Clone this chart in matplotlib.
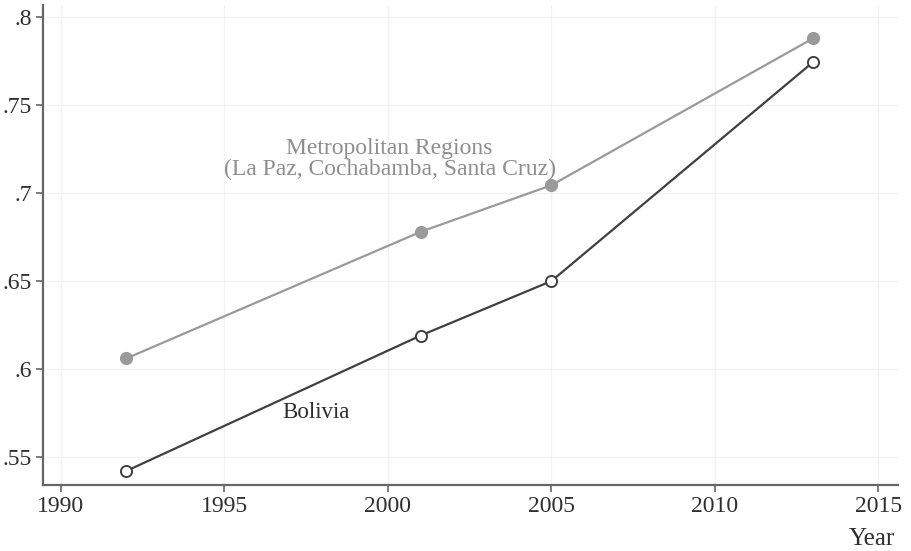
import matplotlib.pyplot as plt

# Data
years = [1992, 2001, 2005, 2013]
metro = [0.606, 0.678, 0.7045, 0.788]
bolivia = [0.542, 0.619, 0.650, 0.7745]

x_ticks = [1990, 1995, 2000, 2005, 2010, 2015]
y_ticks = [0.55, 0.60, 0.65, 0.70, 0.75, 0.80]
y_labels = ['.55', '.6', '.65', '.7', '.75', '.8']

plt.rcParams['font.family'] = ['Liberation Serif', 'DejaVu Serif']

fig = plt.figure(figsize=(9.11, 5.51), dpi=100)
ax = fig.add_axes([43 / 911, 1 - 485 / 551, 855 / 911, 480 / 551])

ax.plot(years, metro, color='#9a9a9a', lw=1.6, marker='o', ms=8.5,
        mfc='#9a9a9a', mec='#9a9a9a', zorder=3)
ax.plot(years, bolivia, color='#404040', lw=1.6, marker='o', ms=8,
        mfc='white', mec='#404040', mew=1.4, zorder=3)

ax.text(2000.05, 0.7195, 'Metropolitan Regions\n(La Paz, Cochabamba, Santa Cruz)',
        ha='center', va='center', color='#8e8e8e', fontsize=17, linespacing=0.97)
ax.text(1997.8, 0.5755, 'Bolivia', ha='center', va='center', color='#2e2e2e', fontsize=16.5)

ax.set_xlim(1989.45, 2015.6)
ax.set_ylim(0.534, 0.807)
ax.set_xticks(x_ticks)
ax.set_yticks(y_ticks)
ax.set_yticklabels(y_labels)
ax.tick_params(labelsize=17, colors='#2e2e2e', length=5, width=1.2, color='#666666', pad=3)

ax.grid(True, color='#f2f2f2', lw=1)
ax.set_axisbelow(True)
for s in ['top', 'right']:
    ax.spines[s].set_visible(False)
for s in ['left', 'bottom']:
    ax.spines[s].set_color('#666666')
    ax.spines[s].set_linewidth(1.6)

fig.text(895 / 911, 1 - 539 / 551, 'Year', ha='right', va='center', fontsize=18, color='#2e2e2e')

fig.savefig('out.png', dpi=100)
